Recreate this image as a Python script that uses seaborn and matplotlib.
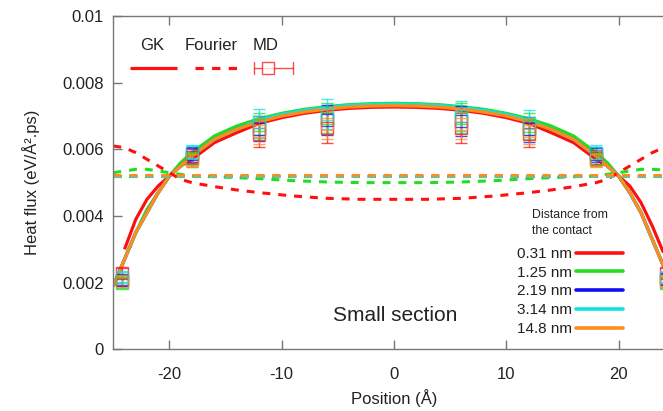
import numpy as np
import pandas as pd
import matplotlib
matplotlib.use("Agg")
import matplotlib.pyplot as plt
import seaborn as sns
from matplotlib.lines import Line2D

# ---------------- data ----------------
distances = ["0.31 nm", "1.25 nm", "2.19 nm", "3.14 nm", "14.8 nm"]
colors = ["#ff1010", "#22dd22", "#1010ee", "#10e0e0", "#ff8c1a"]

x_ticks = [-20, -10, 0, 10, 20]
y_ticks = [0, 0.002, 0.004, 0.006, 0.008, 0.01]
y_ticklabels = ["0", "0.002", "0.004", "0.006", "0.008", "0.01"]

# GK (solid curves)
x_gk = [-25, -24, -23, -22, -21, -20, -19, -18, -16, -14, -12, -10, -8, -6, -4, -2, 0,
        2, 4, 6, 8, 10, 12, 14, 16, 18, 19, 20, 21, 22, 23, 24, 25]
gk_031 = [np.nan, 0.0030, 0.0039, 0.0045, 0.0049, 0.0052, 0.0055, 0.0057, 0.0062, 0.0065,
          0.00678, 0.00695, 0.00708, 0.00717, 0.00723, 0.00726, 0.00727,
          0.00726, 0.00723, 0.00717, 0.00708, 0.00695, 0.00678, 0.0065, 0.0062, 0.0057,
          0.0055, 0.0052, 0.0049, 0.0044, 0.0037, 0.0029, np.nan]
gk_125 = [0.0019, 0.0027, 0.0035, 0.0042, 0.0047, 0.0052, 0.0056, 0.0059, 0.0064, 0.0067,
          0.00692, 0.00708, 0.00720, 0.00728, 0.00734, 0.00737, 0.00738,
          0.00737, 0.00734, 0.00728, 0.00720, 0.00708, 0.00692, 0.0067, 0.0064, 0.0059,
          0.0056, 0.0052, 0.0047, 0.0041, 0.0033, 0.0025, 0.0017]
gk_219 = [0.0019, 0.0027, 0.0035, 0.0041, 0.0047, 0.0052, 0.0055, 0.0058, 0.0063, 0.0066,
          0.00686, 0.00703, 0.00715, 0.00724, 0.00730, 0.00733, 0.00734,
          0.00733, 0.00730, 0.00724, 0.00715, 0.00703, 0.00686, 0.0066, 0.0063, 0.0058,
          0.0055, 0.0052, 0.0047, 0.0041, 0.0033, 0.0025, 0.0017]
gk_314 = [0.0019, 0.0027, 0.0035, 0.0041, 0.0047, 0.0052, 0.0055, 0.0058, 0.0063, 0.0066,
          0.00688, 0.00705, 0.00717, 0.00726, 0.00732, 0.00735, 0.00736,
          0.00735, 0.00732, 0.00726, 0.00717, 0.00705, 0.00688, 0.0066, 0.0063, 0.0058,
          0.0055, 0.0052, 0.0047, 0.0041, 0.0033, 0.0025, 0.0017]
gk_148 = [0.0019, 0.0027, 0.0035, 0.0041, 0.0047, 0.0052, 0.0055, 0.0058, 0.0063, 0.0066,
          0.00683, 0.00700, 0.00712, 0.00721, 0.00727, 0.00730, 0.00731,
          0.00730, 0.00727, 0.00721, 0.00712, 0.00700, 0.00683, 0.0066, 0.0063, 0.0058,
          0.0055, 0.0052, 0.0047, 0.0041, 0.0033, 0.0025, 0.0017]

# Fourier (dashed curves)
x_fourier = [-25, -24, -23, -22, -21, -20, -19, -18, -16, -14, -12, -9, -6, -3, 0,
             3, 6, 9, 12, 14, 16, 18, 19, 20, 21, 22, 23, 24, 25]
fo_031 = [0.0061, 0.00605, 0.0059, 0.0057, 0.0055, 0.0053, 0.0051, 0.00500, 0.00488, 0.00478,
          0.00470, 0.00460, 0.00453, 0.00450, 0.00450,
          0.00450, 0.00453, 0.00460, 0.00470, 0.00478, 0.00488, 0.00500, 0.0051, 0.0053,
          0.0055, 0.0057, 0.0059, 0.00605, 0.0061]
fo_125 = [0.0053, 0.00535, 0.0054, 0.0054, 0.00535, 0.0053, 0.00525, 0.0052, 0.00518, 0.00515,
          0.00512, 0.00506, 0.00502, 0.00500, 0.00500,
          0.00500, 0.00502, 0.00506, 0.00512, 0.00515, 0.00518, 0.0052, 0.00525, 0.0053,
          0.00535, 0.0054, 0.0054, 0.00538, 0.00535]
fo_219 = [0.00519, 0.00519, 0.00519, 0.00519, 0.00519, 0.00519, 0.00519, 0.00519, 0.00519, 0.00519,
          0.00519, 0.00519, 0.00519, 0.00519, 0.00519,
          0.00519, 0.00519, 0.00519, 0.00519, 0.00519, 0.00519, 0.00519, 0.00519, 0.00519,
          0.00519, 0.00519, 0.00519, 0.00519, 0.00519]
fo_314 = [0.00521, 0.00521, 0.00521, 0.00521, 0.00521, 0.00521, 0.00521, 0.00521, 0.00521, 0.00521,
          0.00521, 0.00521, 0.00521, 0.00521, 0.00521,
          0.00521, 0.00521, 0.00521, 0.00521, 0.00521, 0.00521, 0.00521, 0.00521, 0.00521,
          0.00521, 0.00521, 0.00521, 0.00521, 0.00521]
fo_148 = [0.00524, 0.00524, 0.00524, 0.00524, 0.00524, 0.00524, 0.00524, 0.00524, 0.00524, 0.00524,
          0.00524, 0.00524, 0.00524, 0.00524, 0.00524,
          0.00524, 0.00524, 0.00524, 0.00524, 0.00524, 0.00524, 0.00524, 0.00524, 0.00524,
          0.00524, 0.00524, 0.00524, 0.00524, 0.00524]

# MD (boxes with error bars)
x_md = [-24.2, -18, -12, -6, 6, 12, 18, 24.2]
md_031 = [0.00230, 0.00578, 0.00645, 0.00665, 0.00665, 0.00645, 0.00575, 0.00230]
md_125 = [0.00200, 0.00570, 0.00672, 0.00695, 0.00695, 0.00670, 0.00572, 0.00200]
md_219 = [0.00208, 0.00585, 0.00662, 0.00688, 0.00685, 0.00660, 0.00585, 0.00210]
md_314 = [0.00218, 0.00592, 0.00682, 0.00705, 0.00700, 0.00680, 0.00590, 0.00218]
md_148 = [0.00205, 0.00568, 0.00655, 0.00675, 0.00675, 0.00655, 0.00568, 0.00205]
md_err = [0.00015, 0.00022, 0.00038, 0.00045, 0.00045, 0.00038, 0.00022, 0.00015]

gk_series = [gk_031, gk_125, gk_219, gk_314, gk_148]
fo_series = [fo_031, fo_125, fo_219, fo_314, fo_148]
md_series = [md_031, md_125, md_219, md_314, md_148]

# ---------------- style ----------------
sns.set_theme(style="ticks")
plt.rcParams["font.family"] = ["Liberation Sans", "DejaVu Sans"]
TXT = "#222222"
SPINE = "#777777"

W, H = 663, 411
L_PX, R_PX, T_PX, B_PX = 113.3, 674.7, 16.0, 349.3
fig = plt.figure(figsize=(W / 100, H / 100), dpi=100)
ax = fig.add_axes([L_PX / W, (H - B_PX) / H, (R_PX - L_PX) / W, (B_PX - T_PX) / H])

# GK curves
for vals, col in zip(gk_series, colors):
    d = pd.DataFrame({"x": x_gk, "y": vals}).dropna()
    sns.lineplot(data=d, x="x", y="y", ax=ax, color=col, lw=2.3, errorbar=None,
                 sort=False, solid_capstyle="butt")

# Fourier curves
for vals, col in zip(fo_series, colors):
    d = pd.DataFrame({"x": x_fourier, "y": vals})
    line = sns.lineplot(data=d, x="x", y="y", ax=ax, color=col, lw=2.2, errorbar=None,
                        sort=False).lines[-1]
    line.set_dashes((2.6, 2.6))

# MD points
for vals, col in zip(md_series, colors):
    ax.errorbar(x_md, vals, yerr=md_err, fmt="s", mfc="none", mec=col, ecolor=col,
                ms=8, mew=1.0, elinewidth=1.0, capsize=4.5, capthick=1.0, alpha=0.75,
                clip_on=True, zorder=3)

ax.set_xlim(-25, 25)
ax.set_ylim(0, 0.01)
ax.set_xticks(x_ticks)
ax.set_xticklabels([str(t) for t in x_ticks])
ax.set_yticks(y_ticks)
ax.set_yticklabels(y_ticklabels)
ax.tick_params(direction="in", length=6.5, width=1, color=SPINE, top=True, right=True,
               labelsize=12, labelcolor=TXT, pad=7)
ax.tick_params(axis="x", pad=13)
for s in ax.spines.values():
    s.set_color(SPINE)
    s.set_linewidth(1)

ax.set_xlabel("Position (Å)", fontsize=12, color=TXT)
ax.set_ylabel("Heat flux (eV/Å².ps)", fontsize=12, color=TXT)
ax.xaxis.set_label_coords((393.7 - L_PX) / (R_PX - L_PX), -0.12)
ax.yaxis.set_label_coords(-0.13, 0.5)

# "Small section"
ax.text(0.1, 0.001, "Small section", fontsize=15, color=TXT, ha="center", va="center")


def ax_xy(px, py):
    return ((px - L_PX) / (R_PX - L_PX), (B_PX - py) / (B_PX - T_PX))


# top-left method legend
for label, cx in [("GK", 152), ("Fourier", 211), ("MD", 266)]:
    xx, yy = ax_xy(cx, 50.5)
    ax.text(xx, yy, label, transform=ax.transAxes, fontsize=12, color=TXT,
            ha="center", va="baseline")
ly = ax_xy(0, 68)[1]
ax.plot([ax_xy(130, 0)[0], ax_xy(177, 0)[0]], [ly, ly], transform=ax.transAxes,
        color="#ff1010", lw=2.3, solid_capstyle="butt", clip_on=False)
fl, = ax.plot([ax_xy(195, 0)[0], ax_xy(243, 0)[0]], [ly, ly], transform=ax.transAxes,
              color="#ff1010", lw=2.3, clip_on=False)
fl.set_dashes((2.6, 2.6))
ax.plot([ax_xy(254, 0)[0], ax_xy(293, 0)[0]], [ly, ly], transform=ax.transAxes,
        color="#ff1010", lw=1.0, alpha=0.75, clip_on=False)
for cxp in (254, 293):
    ax.plot([ax_xy(cxp, 0)[0]] * 2, [ax_xy(0, 62)[1], ax_xy(0, 74)[1]],
            transform=ax.transAxes, color="#ff1010", lw=1.0, alpha=0.75, clip_on=False)
ax.plot([ax_xy(268, 0)[0]], [ly], transform=ax.transAxes, marker="s", ms=8.5,
        mfc="white", mec="#ff1010", mew=1.0, alpha=0.75, clip_on=False)

# distance legend
for line_txt, py in [("Distance from", 215), ("the contact", 231)]:
    xx, yy = ax_xy(532, py)
    ax.text(xx, yy, line_txt, transform=ax.transAxes, fontsize=8.8, color=TXT,
            ha="left", va="center")
handles = [Line2D([0], [0], color=c, lw=2.6) for c in colors]
leg = ax.legend(handles, distances, loc="lower right",
                bbox_to_anchor=(20.4, 0.0004), bbox_transform=ax.transData,
                markerfirst=False, frameon=False, fontsize=11,
                handlelength=3.1, handletextpad=0.25,
                labelspacing=0.31, borderpad=0, borderaxespad=0)
for t in leg.get_texts():
    t.set_color(TXT)

fig.savefig("out.png", dpi=100)
